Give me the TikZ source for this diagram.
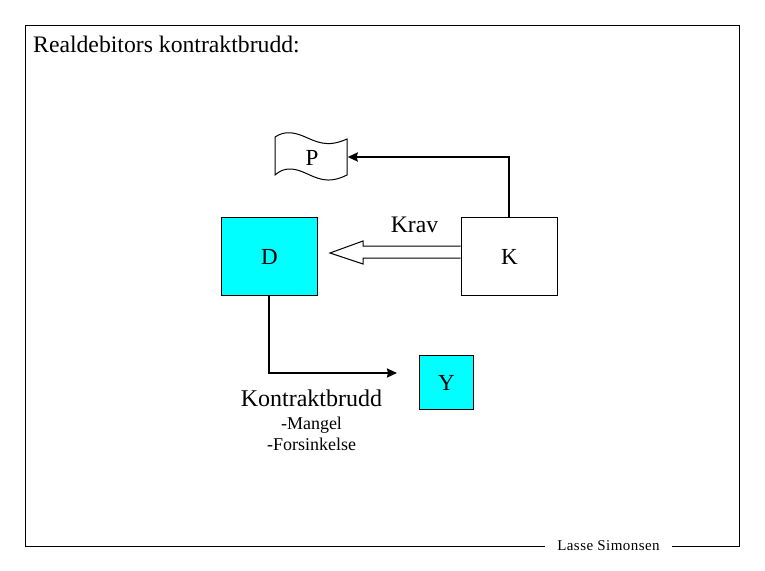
\documentclass[tikz,border=0pt]{standalone}
\usepackage{fontspec}
\setmainfont{Liberation Serif}
\usetikzlibrary{arrows.meta}
\definecolor{boxcyan}{RGB}{0,255,255}
\newcommand{\boxtext}[1]{\raisebox{-8.2pt}[0pt][0pt]{\hspace{1pt}#1}}
\tikzset{
  px/.style={x=1pt,y=-1pt},
  boxnode/.style={draw=black,line width=1pt,inner sep=0pt,font=\fontsize{23}{26}\selectfont},
  bigbox/.style={boxnode,minimum width=96pt,minimum height=78pt},
  conn/.style={line width=2pt,-{Stealth[length=10pt,width=9pt,inset=1pt]}},
  thin line/.style={line width=1pt},
  lbl/.style={inner sep=0pt,font=\fontsize{23.7}{28}\selectfont},
  wide lbl/.style={inner sep=0pt,font=\fontsize{24}{28}\selectfont},
  small lbl/.style={inner sep=0pt,align=center,font=\fontsize{18}{21}\selectfont},
}
\begin{document}
\begin{tikzpicture}[px]
\useasboundingbox (0,0) rectangle (765,570);
\fill[white] (0,0) rectangle (765,570);
\draw[thin line] (25,25) rectangle (739,546);
\node[fill=white,inner sep=0pt,minimum width=127pt,minimum height=14pt,font=\fontsize{15}{17}\selectfont\addfontfeature{LetterSpace=3}] (credit) at (608.5,546) {Lasse Simonsen};
\node[lbl,anchor=west] (title) at (33,44) {Realdebitors kontraktbrudd:};
% flag
\draw[thin line,fill=white] (275,137) .. controls (284,131) and (293,132) .. (303,136)
  .. controls (317,142) and (327,148) .. (347,139) -- (347,175)
  .. controls (327,185) and (317,178) .. (303,172)
  .. controls (293,168) and (284,167) .. (275,175) -- cycle;
\node[inner sep=0pt,minimum width=72pt,minimum height=38pt,font=\fontsize{23}{26}\selectfont] (P) at (311.5,157) {\boxtext{P}};
\node[bigbox,fill=boxcyan] (D) at (269,256) {\boxtext{D}};
\node[bigbox,fill=white] (K) at (509,256) {\boxtext{K}};
\node[boxnode,fill=boxcyan,minimum width=54pt,minimum height=54pt] (Y) at (446,382) {\boxtext{Y}};
\coordinate (Dend) at (397,373);
\draw[conn] (K.north) |- (P.east);
\draw[conn] (D.south) |- (Dend);
\draw[thin line,fill=white] (K.west |- 0,246) -- (363,246) -- (363,241) -- (330,253) -- (363,264) -- (363,258) -- (K.west |- 0,258);
\node[lbl] (krav) at (414.5,224.5) {Krav};
\node[wide lbl] (brudd) at (311.5,398) {Kontraktbrudd};
\node[small lbl] (list) at (311.5,434) {-Mangel\\-Forsinkelse};
\end{tikzpicture}
\end{document}
